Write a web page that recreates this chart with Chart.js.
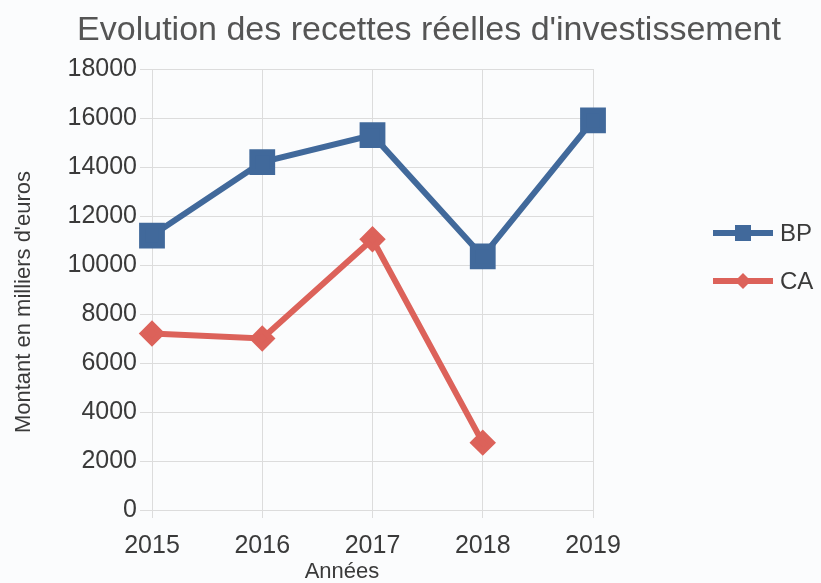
<!DOCTYPE html>
<html>
<head>
<meta charset="utf-8">
<script src="https://cdn.jsdelivr.net/npm/chart.js@4/dist/chart.umd.min.js"></script>
<style>
  html, body { margin: 0; padding: 0; background: #fbfcfd; }
  #wrap { width: 821px; height: 583px; }
</style>
</head>
<body>
<div id="wrap"><canvas id="chart" width="821" height="583"></canvas></div>
<script>
// years on the x axis
var years = ['2015', '2016', '2017', '2018', '2019'];
// budget primitif
var bpValues = [11200, 14200, 15300, 10350, 15900];
// compte administratif (no 2019 value yet)
var caValues = [7200, 7000, 11050, 2750, null];

var chartTitle = "Evolution des recettes réelles d'investissement";
var xTitle = 'Années';
var yTitle = "Montant en milliers d'euros";
var blue = '#41699b';
var red = '#dc625a';
var textColor = '#3a3a3a';
var fontFamily = '"Liberation Sans", Arial, sans-serif';

// titles drawn by hand, the original does not centre them on the plot
var titles = {
    id: 'titles',
    afterDraw: function (chart) {
        var ctx = chart.ctx;
        ctx.save();
        ctx.textAlign = 'center';
        ctx.textBaseline = 'middle';
        ctx.fillStyle = '#555555';
        ctx.font = '34px ' + fontFamily;
        ctx.fillText(chartTitle, 429, 31);
        ctx.fillStyle = textColor;
        ctx.font = '22px ' + fontFamily;
        ctx.fillText(xTitle, 342, 572);
        ctx.translate(24, 302);
        ctx.rotate(-Math.PI / 2);
        ctx.fillText(yTitle, 0, 0);
        ctx.restore();
    }
};

// legend drawn by hand: line with the marker in the middle, like the original
var sideLegend = {
    id: 'sideLegend',
    afterDraw: function (chart) {
        var ctx = chart.ctx;
        var items = chart.data.datasets;
        ctx.save();
        items.forEach(function (ds, i) {
            var y = 233 + i * 48;
            ctx.strokeStyle = ds.borderColor;
            ctx.lineWidth = 6;
            ctx.beginPath();
            ctx.moveTo(713, y);
            ctx.lineTo(773, y);
            ctx.stroke();
            ctx.fillStyle = ds.borderColor;
            ctx.beginPath();
            if (ds.pointStyle === 'rect') {
                ctx.rect(735, y - 8, 16, 16);
            } else {
                ctx.moveTo(743, y - 8);
                ctx.lineTo(751, y);
                ctx.lineTo(743, y + 8);
                ctx.lineTo(735, y);
                ctx.closePath();
            }
            ctx.fill();
            ctx.fillStyle = textColor;
            ctx.font = '24px ' + fontFamily;
            ctx.textBaseline = 'middle';
            ctx.textAlign = 'left';
            ctx.fillText(ds.label, 780, y + 1);
        });
        ctx.restore();
    }
};

var chart = new Chart(document.getElementById('chart'), {
    type: 'line',
    data: {
        labels: years,
        datasets: [
            {
                label: 'BP',
                data: bpValues,
                borderColor: blue,
                backgroundColor: blue,
                borderWidth: 6,
                pointStyle: 'rect',
                pointRadius: 14,
                pointHoverRadius: 14,
                tension: 0
            },
            {
                label: 'CA',
                data: caValues,
                borderColor: red,
                backgroundColor: red,
                borderWidth: 6,
                pointStyle: 'rectRot',
                pointRadius: 9,
                pointHoverRadius: 9,
                tension: 0
            }
        ]
    },
    options: {
        responsive: false,
        animation: false,
        layout: { padding: { left: 0, right: 228, top: 69, bottom: 0 } },
        plugins: {
            legend: { display: false },
            tooltip: { enabled: false },
            title: { display: false }
        },
        scales: {
            x: {
                offset: false,
                grid: { color: '#dcdcdc', lineWidth: 1, tickLength: 8, drawTicks: true },
                border: { color: '#dcdcdc' },
                ticks: {
                    color: textColor,
                    padding: 13,
                    font: { family: fontFamily, size: 25 }
                },
                afterFit: function (scale) { scale.height = 73; }
            },
            y: {
                min: 0,
                max: 18000,
                grid: { color: '#dcdcdc', lineWidth: 1, tickLength: 12, drawTicks: true },
                border: { color: '#dcdcdc' },
                ticks: {
                    stepSize: 2000,
                    color: textColor,
                    padding: 3,
                    font: { family: fontFamily, size: 25 },
                    callback: function (value) { return String(value); }
                },
                afterFit: function (scale) { scale.width = 152; }
            }
        }
    },
    plugins: [titles, sideLegend]
});
</script>
</body>
</html>
